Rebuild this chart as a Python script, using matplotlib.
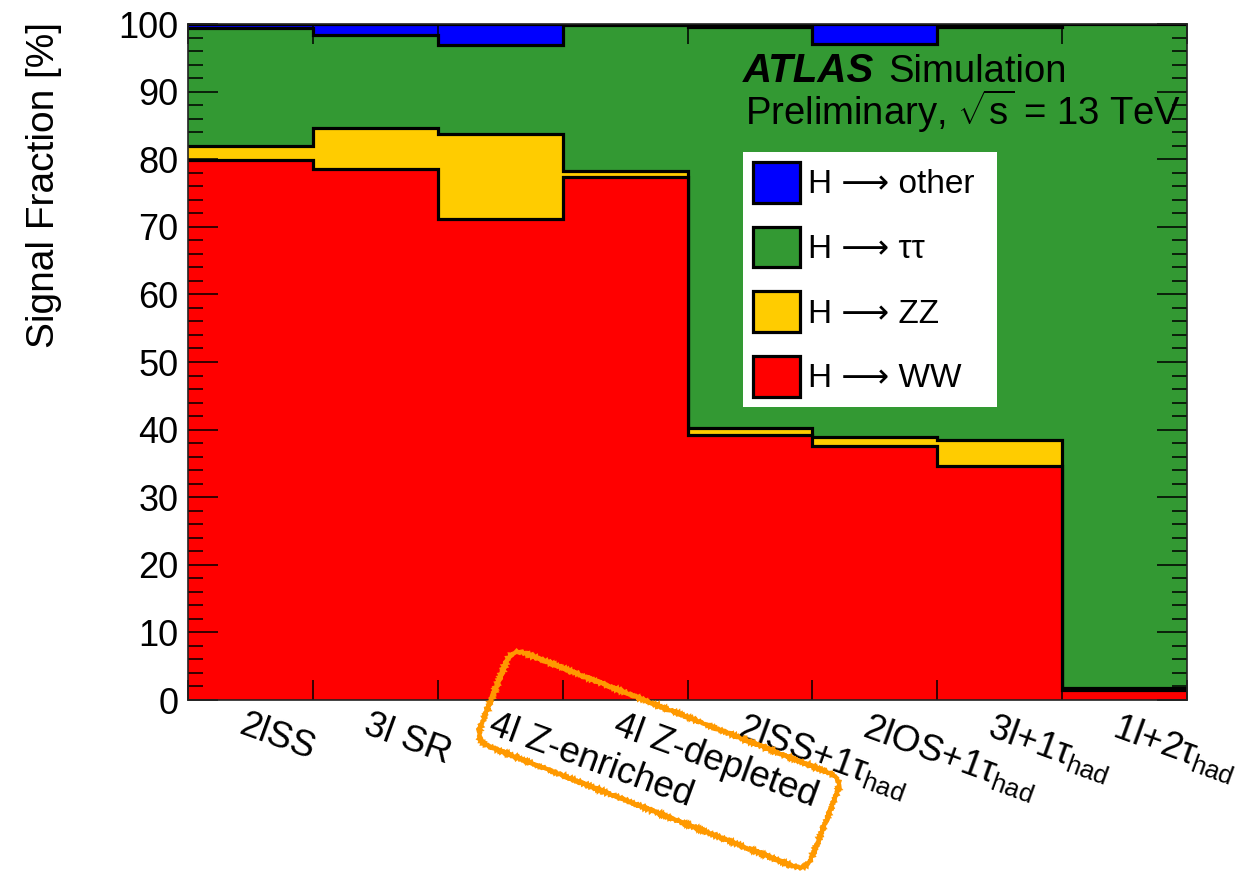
import numpy as np
import matplotlib
matplotlib.use("Agg")
import matplotlib.pyplot as plt
from matplotlib.patches import Patch, FancyBboxPatch
from matplotlib.ticker import MultipleLocator
from matplotlib.transforms import Affine2D

plt.rcParams.update({
    "font.family": ["Liberation Sans", "DejaVu Sans"],
    "mathtext.fontset": "custom",
    "mathtext.rm": "Liberation Sans",
    "mathtext.it": "Liberation Sans:italic",
    "mathtext.bf": "Liberation Sans:bold",
})

# ---------------------------------------------------------------------
#  Data: signal fraction (%) per category
# ---------------------------------------------------------------------
categories = ["2lSS", "3l SR", "4l Z-enriched", "4l Z-depleted",
              r"2lSS+1$\mathrm{\tau}_{\mathrm{had}}$",
              r"2lOS+1$\mathrm{\tau}_{\mathrm{had}}$",
              r"3l+1$\mathrm{\tau}_{\mathrm{had}}$",
              r"1l+2$\mathrm{\tau}_{\mathrm{had}}$"]
h_ww     = [79.9, 78.5, 71.2, 77.3, 39.2, 37.5, 34.6, 1.5]
h_zz     = [2.1, 6.1, 12.5, 1.0, 1.0, 1.4, 3.9, 0.3]
h_tautau = [17.4, 13.8, 13.2, 21.6, 59.4, 58.1, 61.1, 98.2]
h_other  = [0.6, 1.6, 3.1, 0.1, 0.4, 3.0, 0.4, 0.0]

labels = ["H ⟶ other", "H ⟶ ττ", "H ⟶ ZZ", "H ⟶ WW"]
colors = ["#0000FF", "#339933", "#FFCC00", "#FF0000"]   # other, tautau, ZZ, WW

W, H = 1244, 871
fig = plt.figure(figsize=(W / 100, H / 100), dpi=100)
ax = fig.add_axes([188 / W, 171 / H, 999 / W, 676 / H])

edges = np.arange(len(categories) + 1)
c_ww = np.array(h_ww)
c_zz = c_ww + np.array(h_zz)
c_tt = c_zz + np.array(h_tautau)
c_ot = c_tt + np.array(h_other)

# stacked histogram: draw top layer first, each with a black outline
for cum, col in zip([c_ot, c_tt, c_zz, c_ww], colors):
    ax.stairs(cum, edges, baseline=0, fill=True, color=col, lw=0)
    ax.stairs(cum, edges, baseline=None, color="black", lw=2.3)

ax.set_xlim(edges[0], edges[-1])
ax.set_ylim(0, 100)
ax.set_xticks(edges)
ax.yaxis.set_major_locator(MultipleLocator(10))
ax.yaxis.set_minor_locator(MultipleLocator(2))
ax.tick_params(axis="y", which="major", direction="in", length=21.6,
               width=1.1, right=True, labelsize=26, pad=7)
ax.tick_params(axis="y", which="minor", direction="in", length=10.8,
               width=1.1, right=True)
ax.tick_params(axis="x", which="major", direction="in", length=14.4,
               width=1.1, top=True, labelbottom=False)
for s in ax.spines.values():
    s.set_linewidth(1.2)
    s.set_color("#222222")

# rotated category labels
for i, lab in enumerate(categories):
    ax.annotate(lab, xy=(i + 0.5, 0), xycoords=("data", "axes fraction"),
                xytext=(-4, -8), textcoords="offset pixels",
                rotation=-20, rotation_mode="anchor", ha="left", va="top",
                fontsize=26.5, annotation_clip=False)

fig.text(44 / W, 1 - 22 / H, "Signal Fraction [%]", rotation=90,
         ha="center", va="top", fontsize=28)

# ATLAS label
fig.text(743 / W, 1 - 82 / H, "ATLAS", fontsize=29, fontweight="bold",
         fontstyle="italic", va="baseline")
fig.text(888 / W, 1 - 82 / H, "Simulation", fontsize=27.5, va="baseline")
fig.text(745 / W, 1 - 125 / H, r"Preliminary, $\sqrt{\mathrm{s}}$ = 13 TeV",
         fontsize=27.5, va="baseline")

handles = [Patch(facecolor=c, edgecolor="black", lw=2.3) for c in colors]
leg = ax.legend(handles, labels, loc="upper left", mode="expand",
                bbox_to_anchor=((743 - 188) / 999, (700 - 409) / 676,
                                (997 - 743) / 999, (409 - 152) / 676),
                borderaxespad=0, fontsize=24, frameon=True, fancybox=False,
                framealpha=1, facecolor="white", edgecolor="none",
                handlelength=1.4, handleheight=1.5, handletextpad=0.25,
                labelspacing=0.72, borderpad=0.3)

# orange highlight box around the "4l Z-enriched" label
cx, cy = 659 / 100, (H - 759.6) / 100
bw, bh = 3.56, 1.0
box = FancyBboxPatch((cx - bw / 2, cy - bh / 2), bw, bh,
                     boxstyle="round,pad=0,rounding_size=0.15",
                     fill=False, edgecolor="#FF9900", lw=3,
                     transform=Affine2D().rotate_deg_around(cx, cy, -21.5)
                     + fig.dpi_scale_trans)
box.set_sketch_params(scale=1.0, length=3.0, randomness=2.0)
fig.add_artist(box)

fig.savefig("out.png", dpi=100)
